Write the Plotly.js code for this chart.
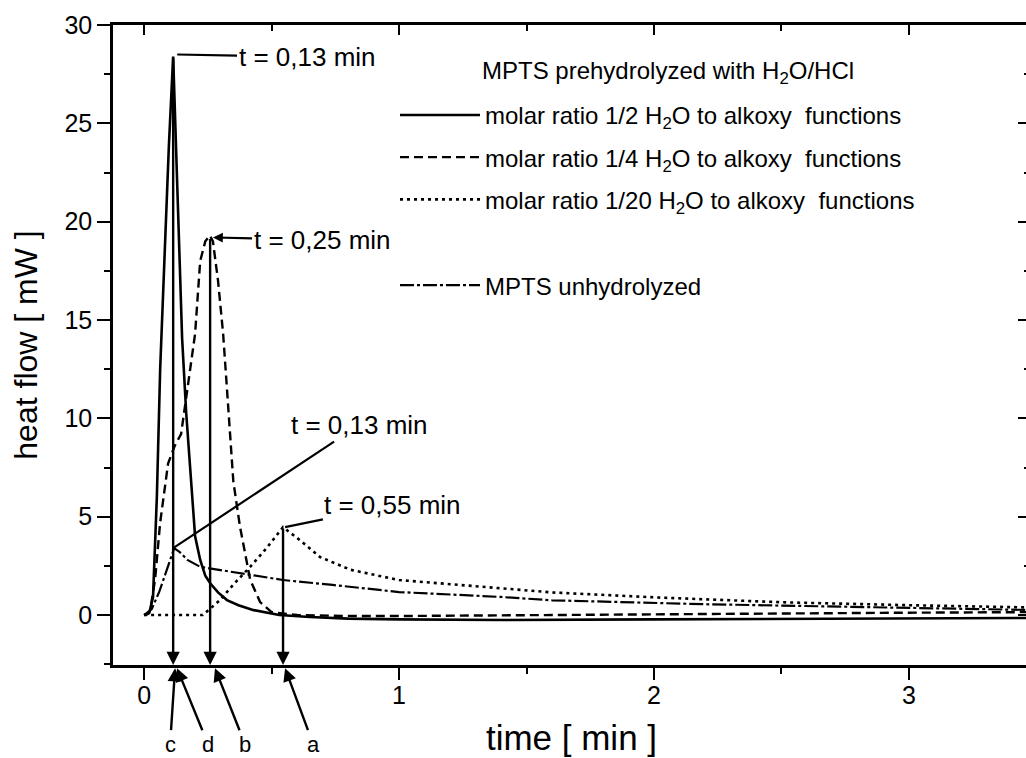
<!DOCTYPE html>
<html>
<head>
<meta charset="utf-8">
<script src="https://cdn.plot.ly/plotly-3.0.1.min.js"></script>
<style>
  html, body { margin: 0; padding: 0; overflow: hidden; background: #fff; }
  #chart { width: 1040px; height: 758px; }
</style>
</head>
<body>
<div id="chart"></div>
<script>
// ---- data ----
const seriesNames = [
  'molar ratio 1/2 H<sub>2</sub>O to alkoxy\u00A0 functions',
  'molar ratio 1/4 H<sub>2</sub>O to alkoxy\u00A0 functions',
  'molar ratio 1/20 H<sub>2</sub>O to alkoxy\u00A0 functions',
  'MPTS unhydrolyzed'
];
const legendHeader = 'MPTS prehydrolyzed with H<sub>2</sub>O/HCl';

// 1/2 H2O (solid)
const timeHalf = [0, 0.02, 0.035, 0.05, 0.063, 0.08, 0.097, 0.114, 0.122, 0.135, 0.149, 0.165, 0.188, 0.2, 0.22, 0.24, 0.26, 0.29, 0.325, 0.37, 0.43, 0.53, 0.65, 0.8, 1.0, 1.4, 2.0, 2.6, 3.0, 3.5];
const flowHalf = [0, 0.1, 0.9, 6.0, 12.5, 18.5, 23.8, 28.4, 25.3, 19.5, 14.1, 10.3, 6.35, 4.0, 2.8, 2.0, 1.6, 1.15, 0.76, 0.5, 0.25, 0.0, -0.1, -0.18, -0.22, -0.25, -0.22, -0.18, -0.16, -0.15];

// 1/4 H2O (dashed)
const timeQuarter = [0, 0.015, 0.024, 0.043, 0.063, 0.094, 0.12, 0.145, 0.17, 0.2, 0.22, 0.24, 0.258, 0.27, 0.29, 0.31, 0.325, 0.35, 0.376, 0.416, 0.455, 0.5, 0.6, 0.8, 1.0, 1.5, 2.0, 2.5, 3.0, 3.5];
const flowQuarter = [0, 0.05, 0.25, 1.8, 4.7, 7.7, 8.6, 9.2, 11.5, 14.3, 18.0, 19.0, 19.3, 19.0, 17.0, 14.3, 11.5, 6.8, 4.5, 1.8, 0.66, 0.15, 0.0, -0.05, -0.05, 0.0, 0.05, 0.1, 0.12, 0.15];

// 1/20 H2O (dotted)
const timeTwentieth = [0, 0.1, 0.23, 0.298, 0.35, 0.416, 0.48, 0.545, 0.612, 0.69, 0.81, 1.0, 1.4, 1.6, 2.0, 2.5, 3.0, 3.5];
const flowTwentieth = [0, 0, 0, 0.76, 1.55, 2.45, 3.4, 4.47, 3.8, 2.95, 2.3, 1.78, 1.37, 1.15, 0.9, 0.65, 0.5, 0.38];

// unhydrolyzed (dash-dot)
const timeUnhydro = [0, 0.03, 0.06, 0.09, 0.118, 0.14, 0.17, 0.22, 0.35, 0.545, 0.74, 1.0, 1.4, 1.6, 2.2, 2.8, 3.5];
const flowUnhydro = [0, 0.3, 1.2, 2.4, 3.4, 3.2, 2.8, 2.45, 2.19, 1.78, 1.53, 1.17, 0.92, 0.75, 0.55, 0.4, 0.25];

const xTickVals = [0, 1, 2, 3];
const yTickVals = [0, 5, 10, 15, 20, 25, 30];

// peak annotations: text and peak point
const peakTexts = ['t = 0,13 min', 't = 0,25 min', 't = 0,13 min', 't = 0,55 min'];
const peakT = [0.13, 0.27, 0.114, 0.553];
const peakF = [28.5, 19.2, 3.4, 4.47];

// drop lines from peaks to the time axis
const dropT = [0.114, 0.259, 0.545];
const dropF = [28.4, 19.2, 4.47];

// letters under the axis and the times their arrows point at
const letters = ['c', 'd', 'b', 'a'];
const letterTipT = [0.1216, 0.129, 0.278, 0.553];

// ---- figure ----
const FONT = 'Liberation Sans, Arial, Helvetica, sans-serif';
const xRange = [-0.122, 3.475];
const yRange = [-2.54, 30];

const styles = [
  {dash: 'solid', width: 2.6},
  {dash: '9px,5px', width: 2.4},
  {dash: '3px,4px', width: 2.6},
  {dash: '14px,3px,3px,3px', width: 2.2}
];
const xs = [timeHalf, timeQuarter, timeTwentieth, timeUnhydro];
const ys = [flowHalf, flowQuarter, flowTwentieth, flowUnhydro];

// the last series is drawn on the mirrored (top/right) axes, which share the same ranges
const traces = xs.map((x, i) => ({
  type: 'scatter', mode: 'lines', x: x, y: ys[i],
  name: seriesNames[i],
  xaxis: i < 3 ? 'x' : 'x2', yaxis: i < 3 ? 'y' : 'y2',
  line: {color: '#000', dash: styles[i].dash, width: styles[i].width},
  legend: i < 3 ? 'legend' : 'legend2',
  legendgroup: 'g' + i,
  hoverinfo: 'skip'
}));

const annotations = [];
// legend header
annotations.push({
  text: legendHeader, xref: 'paper', yref: 'paper', x: 0.605, y: 0.925,
  xanchor: 'center', yanchor: 'middle', showarrow: false,
  font: {family: FONT, size: 24, color: '#000'}
});
const labelPos = [[0.639, 28.37], [0.698, 19.07], [0.843, 9.66], [0.976, 5.59]];
const heads = [0, 2, 0, 0];
peakTexts.forEach((t, i) => {
  annotations.push({
    text: t, x: peakT[i], y: peakF[i], xref: 'x', yref: 'y',
    ax: labelPos[i][0], ay: labelPos[i][1], axref: 'x', ayref: 'y',
    showarrow: true, arrowhead: heads[i], arrowsize: 0.9, arrowwidth: 2.2, arrowcolor: '#000',
    font: {family: FONT, size: 26, color: '#000'}
  });
});
dropT.forEach((t, i) => {
  annotations.push({
    text: '', x: t, y: yRange[0], xref: 'x', yref: 'y',
    ax: t, ay: dropF[i], axref: 'x', ayref: 'y',
    showarrow: true, arrowhead: 2, arrowsize: 1.1, arrowwidth: 2.4, arrowcolor: '#000'
  });
});
// label centres (time) for the letters; arrow tips sit just under the axis
const letterLabelT = [0.102, 0.251, 0.396, 0.663];
letters.forEach((l, i) => {
  annotations.push({
    text: l, x: letterTipT[i], y: -0.005, xref: 'x', yref: 'paper',
    ax: letterLabelT[i], axref: 'x', ay: 76, ayref: 'pixel',
    showarrow: true, arrowhead: 2, arrowsize: 1.1, arrowwidth: 2.4, arrowcolor: '#000',
    font: {family: FONT, size: 22, color: '#000'}
  });
});

const layout = {
  width: 1040, height: 758,
  margin: {l: 113, r: 10, t: 25, b: 93},
  paper_bgcolor: '#fff', plot_bgcolor: '#fff',
  font: {family: FONT, color: '#000', size: 24},
  showlegend: true,
  xaxis: {
    range: xRange, tickvals: xTickVals, ticktext: xTickVals.map(String),
    ticks: 'outside', ticklen: 12, tickwidth: 2.2, tickcolor: '#000', ticklabelstandoff: -6,
    showline: true, linewidth: 2.6, linecolor: '#000', mirror: false,
    showgrid: false, zeroline: false,
    tickfont: {family: FONT, size: 25, color: '#000'},
    minor: {dtick: 0.5, tick0: 0, ticks: 'outside', ticklen: 6, tickwidth: 2, tickcolor: '#000', showgrid: false},
    title: {text: 'time [ min ]', font: {family: FONT, size: 35, color: '#000'}, standoff: 18}
  },
  yaxis: {
    range: yRange, tickvals: yTickVals, ticktext: yTickVals.map(String),
    ticks: 'outside', ticklen: 13, tickwidth: 2.2, tickcolor: '#000',
    showline: true, linewidth: 2.8, linecolor: '#000',
    showgrid: false, zeroline: false,
    tickfont: {family: FONT, size: 25, color: '#000'},
    minor: {dtick: 2.5, tick0: 0, ticks: 'outside', ticklen: 6, tickwidth: 2, tickcolor: '#000', showgrid: false},
    title: {text: 'heat flow [ mW ]', font: {family: FONT, size: 32, color: '#000'}, standoff: 18}
  },
  xaxis2: {
    overlaying: 'x', side: 'top', anchor: 'y2', range: xRange, tickvals: xTickVals,
    ticks: 'inside', ticklen: 10, tickwidth: 2.2, tickcolor: '#000', showticklabels: false,
    showline: true, linewidth: 2.6, linecolor: '#000', showgrid: false, zeroline: false,
    minor: {dtick: 0.5, tick0: 0, ticks: 'inside', ticklen: 6, tickwidth: 2, tickcolor: '#000', showgrid: false}
  },
  yaxis2: {
    overlaying: 'y', side: 'right', anchor: 'x2', range: yRange, tickvals: yTickVals,
    ticks: 'inside', ticklen: 12, tickwidth: 2.2, tickcolor: '#000', showticklabels: false,
    showline: true, linewidth: 2.6, linecolor: '#000', showgrid: false, zeroline: false,
    minor: {dtick: 2.5, tick0: 0, ticks: 'inside', ticklen: 6, tickwidth: 2, tickcolor: '#000', showgrid: false}
  },
  legend: {
    x: 0.3075, y: 0.894, xanchor: 'left', yanchor: 'top',
    bgcolor: 'rgba(0,0,0,0)', borderwidth: 0,
    font: {family: FONT, size: 24, color: '#000'},
    traceorder: 'grouped', tracegroupgap: 8, itemwidth: 80
  },
  legend2: {
    x: 0.3075, y: 0.628, xanchor: 'left', yanchor: 'top',
    bgcolor: 'rgba(0,0,0,0)', borderwidth: 0,
    font: {family: FONT, size: 24, color: '#000'}, itemwidth: 80
  },
  annotations: annotations
};

Plotly.newPlot('chart', traces, layout, {displayModeBar: false, staticPlot: true});
</script>
</body>
</html>
